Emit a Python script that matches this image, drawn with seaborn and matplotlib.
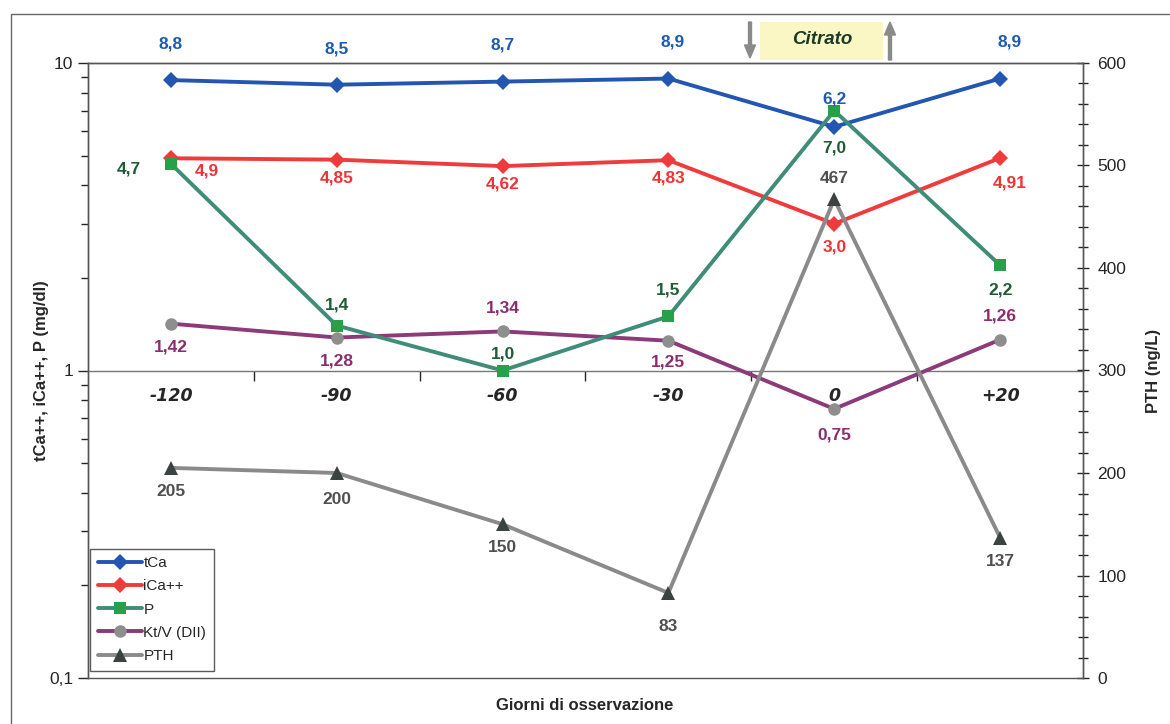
import seaborn as sns
import matplotlib.pyplot as plt
from matplotlib.patches import Rectangle, FancyArrow
from matplotlib.ticker import FixedLocator, NullFormatter

# data
days = ["-120", "-90", "-60", "-30", "0", "+20"]
tca = [8.8, 8.5, 8.7, 8.9, 6.2, 8.9]
tca_lbl = ["8,8", "8,5", "8,7", "8,9", "6,2", "8,9"]
ica = [4.9, 4.85, 4.62, 4.83, 3.0, 4.91]
ica_lbl = ["4,9", "4,85", "4,62", "4,83", "3,0", "4,91"]
p = [4.7, 1.4, 1.0, 1.5, 7.0, 2.2]
p_lbl = ["4,7", "1,4", "1,0", "1,5", "7,0", "2,2"]
ktv = [1.42, 1.28, 1.34, 1.25, 0.75, 1.26]
ktv_lbl = ["1,42", "1,28", "1,34", "1,25", "0,75", "1,26"]
pth = [205, 200, 150, 83, 467, 137]
pth_lbl = ["205", "200", "150", "83", "467", "137"]

sns.set_style("ticks")
plt.rcParams["font.family"] = ["Liberation Sans", "DejaVu Sans"]

pos = list(range(len(days)))

fig = plt.figure(figsize=(11.7, 7.24), dpi=100)
ax = fig.add_axes([88 / 1170, 46 / 724, 995 / 1170, 615 / 724])

# left axis series
sns.lineplot(x=pos, y=tca, ax=ax, color="#2256b0", linewidth=2.8, marker="D",
             markersize=8, markeredgewidth=0, label="tCa", zorder=3)
sns.lineplot(x=pos, y=ica, ax=ax, color="#ef3b3b", linewidth=2.8, marker="D",
             markersize=8, markeredgewidth=0, label="iCa++", zorder=3)
sns.lineplot(x=pos, y=ktv, ax=ax, color="#8c3a78", linewidth=2.8, marker="o",
             markersize=9, markerfacecolor="#8e8e8e", markeredgewidth=0,
             label="Kt/V (DII)", zorder=3)
sns.lineplot(x=pos, y=p, ax=ax, color="#3f8c78", linewidth=2.8, marker="s",
             markersize=9, markerfacecolor="#27a04a", markeredgewidth=0,
             label="P", zorder=4)

ax.set_yscale("log")
ax.set_ylim(0.1, 10)
ax.set_xlim(-0.5, 5.5)
ax.yaxis.set_major_locator(FixedLocator([0.1, 1, 10]))
ax.set_yticklabels(["0,1", "1", "10"])
ax.yaxis.set_minor_formatter(NullFormatter())
ax.tick_params(axis="y", which="major", length=7, width=1, labelsize=12.5, direction="out")
ax.tick_params(axis="y", which="minor", length=5, width=1, direction="out")
ax.set_ylabel("tCa++, iCa++, P (mg/dl)", fontsize=12, fontweight="bold", labelpad=0)

# category axis crosses at 1
ax.spines["bottom"].set_position(("data", 1))
ax.set_xticks(pos)
ax.set_xticklabels(days, fontsize=12.5, fontweight="bold", fontstyle="italic",
                   family="DejaVu Sans")
ax.set_xticks([i + 0.5 for i in pos[:-1]], minor=True)
ax.tick_params(axis="x", which="major", length=0, pad=12)
ax.tick_params(axis="x", which="minor", length=7, width=1, direction="out")
for s in ax.spines.values():
    s.set_color("#555555")
    s.set_linewidth(1)
ax.spines["bottom"].set_color("#777777")

# right axis
ax2 = ax.twinx()
sns.lineplot(x=pos, y=pth, ax=ax2, color="#8a8a8a", linewidth=2.8, marker="^",
             markersize=10, markerfacecolor="#3b4242", markeredgewidth=0,
             label="PTH", zorder=3)
ax2.set_ylim(0, 600)
ax2.set_yticks(range(0, 601, 100))
ax2.set_yticks(range(0, 601, 20), minor=True)
ax2.tick_params(axis="y", which="major", length=9, width=1, direction="inout", labelsize=12.5, pad=6)
ax2.tick_params(axis="y", which="minor", length=7, width=1, direction="inout")
ax2.set_ylabel("PTH (ng/L)", fontsize=12, fontweight="bold", labelpad=14)
for s in ax2.spines.values():
    s.set_color("#555555")
    s.set_linewidth(1)

# value labels (offsets in points)
def put(axis, vals, lbls, offs, color):
    for i, (v, t, o) in enumerate(zip(vals, lbls, offs)):
        axis.annotate(t, (i, v), xytext=o, textcoords="offset points",
                      ha="center", va="center", fontsize=12.5,
                      fontweight="bold", color=color, zorder=6)

put(ax, tca, tca_lbl, [(0, 26), (0, 26), (0, 26), (3, 26), (0, 20), (7, 26)], "#1f5bb0")
put(ax, ica, ica_lbl, [(26, -9), (0, -13), (0, -13), (0, -13), (0, -17), (7, -18)], "#ee3535")
put(ax, p, p_lbl, [(-30, -4), (0, 15), (0, 12), (0, 19), (0, -27), (0, -18)], "#1f5c35")
put(ax, ktv, ktv_lbl, [(0, -17), (0, -17), (0, 17), (0, -15), (0, -19), (0, 17)], "#8a2e6e")
put(ax2, pth, pth_lbl, [(0, -17), (0, -19), (0, -17), (0, -24), (0, 15), (0, -17)], "#505050")

# legend
h1, l1 = ax.get_legend_handles_labels()
h2, l2 = ax2.get_legend_handles_labels()
order = [0, 1, 3, 2]
handles = [h1[i] for i in order] + h2
labels = [l1[i] for i in order] + l2
ax.get_legend().remove()
leg = ax2.legend(handles, labels, loc="lower left", bbox_to_anchor=(0.002, 0.012),
                 fontsize=11, frameon=True, fancybox=False, handlelength=2.9,
                 handletextpad=0.1, borderpad=0.5, labelspacing=0.6, borderaxespad=0)
leg.get_frame().set_edgecolor("#333333")
leg.get_frame().set_linewidth(1)

# Citrato band on top
fig.patches.append(Rectangle((760 / 1170, 1 - 60 / 724), 123 / 1170, 38 / 724,
                             transform=fig.transFigure, facecolor="#fbf7c4",
                             edgecolor="none", zorder=1))
fig.text(822 / 1170, 1 - 40 / 724, "Citrato", ha="center", va="center",
         fontsize=13.5, fontweight="bold", fontstyle="italic", color="#1d3a28")
fig.patches.append(FancyArrow(
    750 / 1170, 1 - 22 / 724, 0, -36 / 724, width=3 / 1170, head_width=11 / 1170,
    head_length=13 / 724, length_includes_head=True, transform=fig.transFigure,
    color="#8a8a8a"))
fig.patches.append(FancyArrow(
    890 / 1170, 1 - 60 / 724, 0, 38 / 724, width=3 / 1170, head_width=11 / 1170,
    head_length=13 / 724, length_includes_head=True, transform=fig.transFigure,
    color="#8a8a8a"))

# outer frame
fig.patches.append(Rectangle((11 / 1170, -0.1), 1.2, 1.1 - 14 / 724,
                             transform=fig.transFigure, fill=False,
                             edgecolor="#666666", linewidth=1))

fig.text(585 / 1170, 1 - 705 / 724, "Giorni di osservazione", ha="center",
         va="center", fontsize=12, fontweight="bold")

fig.savefig("out.png", dpi=100)
